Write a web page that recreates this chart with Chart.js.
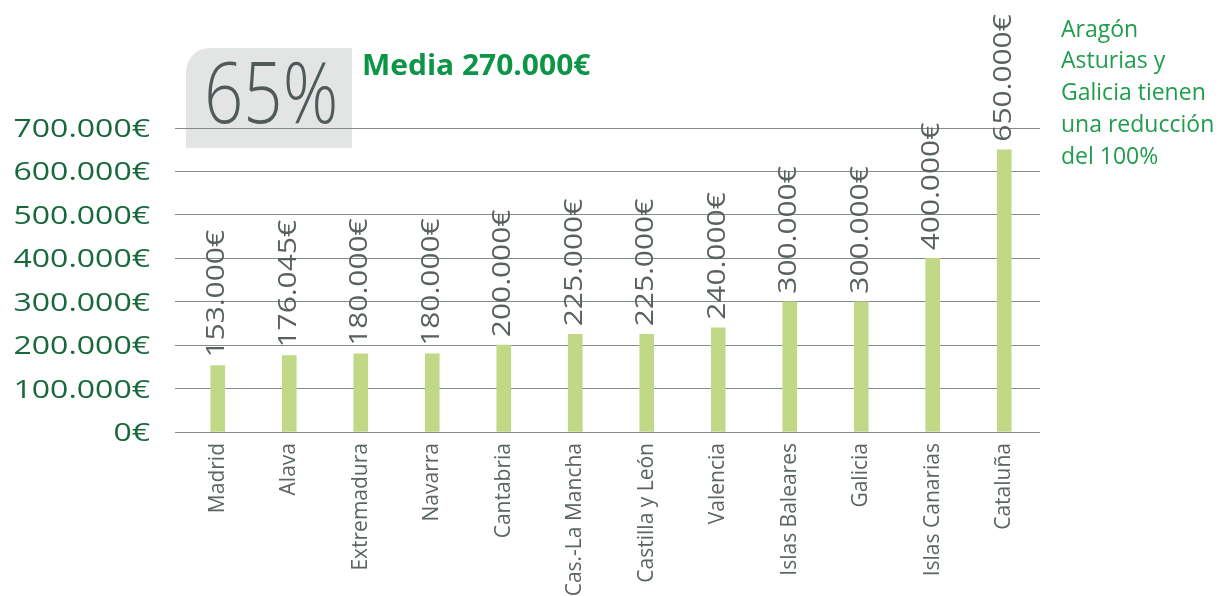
<!DOCTYPE html>
<html>

<head>
    <script src="https://cdn.jsdelivr.net/npm/chart.js@4.4.0/dist/chart.umd.min.js"></script>
    <style>
        body { margin: 0; background: #fff; }
    </style>
</head>

<body>
    <canvas id="myChart" width="1228" height="596"></canvas>
    <script>
        const regions = ["Madrid", "Alava", "Extremadura", "Navarra", "Cantabria", "Cas.-La Mancha",
            "Castilla y León", "Valencia", "Islas Baleares", "Galicia", "Islas Canarias", "Cataluña"];
        const amounts = [153000, 176045, 180000, 180000, 200000, 225000, 225000, 240000, 300000, 300000, 400000, 650000];
        const amountLabels = ["153.000€", "176.045€", "180.000€", "180.000€", "200.000€", "225.000€",
            "225.000€", "240.000€", "300.000€", "300.000€", "400.000€", "650.000€"];
        const yTickValues = [0, 100000, 200000, 300000, 400000, 500000, 600000, 700000];
        const yTickLabels = ["0€", "100.000€", "200.000€", "300.000€", "400.000€", "500.000€", "600.000€", "700.000€"];
        const badgeText = "65%";
        const averageText = "Media 270.000€";
        const noteLines = ["Aragón", "Asturias y", "Galicia tienen", "una reducción", "del 100%"];

        // extra drawing: badge box, y labels, value labels, notes
        const decorations = {
            id: 'decorations',
            beforeDraw(chart) {
                const ctx = chart.ctx;
                ctx.save();
                ctx.fillStyle = '#e3e5e4';
                ctx.beginPath();
                ctx.roundRect(186, 48, 166, 100, [24, 0, 0, 0]);
                ctx.fill();
                ctx.restore();
            },
            afterDraw(chart) {
                const ctx = chart.ctx;
                const yScale = chart.scales.y;

                // big percentage
                ctx.save();
                ctx.translate(204, 123);
                ctx.scale(0.82, 1);
                ctx.font = '300 84px "Open Sans"';
                ctx.fillStyle = '#515a5a';
                ctx.textBaseline = 'alphabetic';
                ctx.fillText(badgeText, 0, 0);
                ctx.restore();

                // media
                ctx.save();
                ctx.translate(362, 75);
                ctx.scale(1.07, 1);
                ctx.font = 'bold 28px "Open Sans"';
                ctx.fillStyle = '#0d9547';
                ctx.fillText(averageText, 0, 0);
                ctx.restore();

                // y tick labels
                yTickValues.forEach((v, i) => {
                    const y = yScale.getPixelForValue(v);
                    ctx.save();
                    ctx.translate(150, y + 9);
                    ctx.scale(1.28, 1);
                    ctx.font = '25px "Open Sans"';
                    ctx.fillStyle = '#17693b';
                    ctx.textAlign = 'right';
                    ctx.fillText(yTickLabels[i], 0, 0);
                    ctx.restore();
                });

                // value labels over bars
                const meta = chart.getDatasetMeta(0);
                meta.data.forEach((bar, i) => {
                    ctx.save();
                    ctx.translate(bar.x - 1, bar.y - 8);
                    ctx.rotate(-Math.PI / 2);
                    ctx.scale(1.15, 1);
                    ctx.font = '26px "Open Sans"';
                    ctx.fillStyle = '#59615f';
                    ctx.textAlign = 'left';
                    ctx.textBaseline = 'middle';
                    ctx.fillText(amountLabels[i], 0, 0);
                    ctx.restore();
                });

                // note on the right
                ctx.save();
                ctx.font = '23px "Open Sans"';
                ctx.fillStyle = '#1f9d4c';
                ctx.textBaseline = 'middle';
                noteLines.forEach((line, i) => {
                    ctx.fillText(line, 1061, 30 + i * 31.8);
                });
                ctx.restore();
            }
        };

        new Chart(document.getElementById('myChart'), {
            type: 'bar',
            data: {
                labels: regions,
                datasets: [{
                    data: amounts,
                    backgroundColor: '#c1d887',
                    barThickness: 14
                }]
            },
            options: {
                responsive: false,
                animation: false,
                devicePixelRatio: 1,
                layout: { padding: { top: 128, right: 188, left: 0, bottom: 0 } },
                plugins: {
                    legend: { display: false },
                    tooltip: { enabled: false }
                },
                scales: {
                    x: {
                        grid: { display: false, drawTicks: false },
                        border: { display: false },
                        ticks: {
                            autoSkip: false,
                            minRotation: 90,
                            maxRotation: 90,
                            padding: 11,
                            color: '#5b6563',
                            font: { family: '"Open Sans"', size: 21 }
                        },
                        afterFit(scale) { scale.height = 164; }
                    },
                    y: {
                        min: 0,
                        max: 700000,
                        grid: { color: '#858b8a', tickLength: 7 },
                        border: { display: false },
                        ticks: { display: false, stepSize: 100000 },
                        afterFit(scale) { scale.width = 182; }
                    }
                }
            },
            plugins: [decorations]
        });
    </script>
</body>

</html>
